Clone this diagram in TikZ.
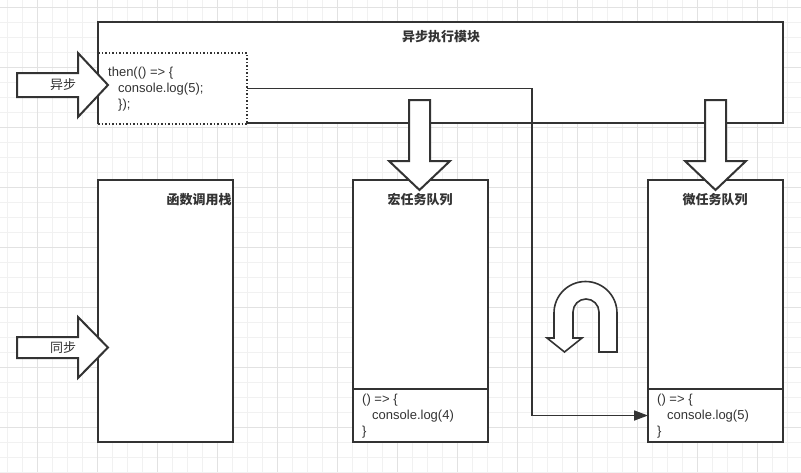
\documentclass[tikz,border=0pt]{standalone}
\usepackage{fontspec}
\setmainfont{Liberation Sans}
\newfontfamily\cjk{Noto Sans CJK SC}
\usetikzlibrary{arrows.meta}
\definecolor{ink}{HTML}{333333}
\definecolor{gridminor}{HTML}{F1F1F1}
\definecolor{gridmajor}{HTML}{E2E2E2}
\begin{document}
\begin{tikzpicture}[x=1pt,y=-1pt,
  box/.style={draw=ink, line width=2pt, fill=white, anchor=north west, inner sep=0pt, outer sep=0pt},
  dotbox/.style={box, line width=1.5pt, dash pattern=on 1.5pt off 2pt},
  blockarrow/.style={draw=ink, line width=2pt, fill=white, line join=miter},
  uturn/.style={draw=ink, line width=1.6pt, fill=white, line join=miter},
  title/.style={font=\cjk\bfseries\fontsize{13}{15}\selectfont, text=ink, inner sep=0pt},
  label/.style={font=\cjk\fontsize{13}{15}\selectfont, text=ink, inner sep=0pt},
  code/.style={font=\fontsize{13}{16}\selectfont, text=ink, align=left, anchor=west, inner sep=0pt},
  conn/.style={draw=ink, line width=1.7pt, -{Triangle[length=14pt,width=10pt]}}]

\useasboundingbox (0,0) rectangle (801,472);
\fill[white] (0,0) rectangle (801,472);
% grid
\foreach \i in {0,...,53} { \draw[gridminor, line width=1pt] ({7+15*\i},0) -- ({7+15*\i},472); }
\foreach \j in {0,...,31} { \draw[gridminor, line width=1pt] (0,{7+15*\j}) -- (801,{7+15*\j}); }
\foreach \i in {0,...,12} { \draw[gridmajor, line width=1pt] ({37+60*\i},0) -- ({37+60*\i},472); }
\foreach \j in {0,...,7} { \draw[gridmajor, line width=1pt] (0,{7+60*\j}) -- (801,{7+60*\j}); }

% async module
\node[box, minimum width=685pt, minimum height=101pt] (async) at (98,22) {};
\node[title] (asynct) at (441,37) {异步执行模块};
\node[dotbox, minimum width=149pt, minimum height=71pt] (then) at (98,53) {};
\draw[ink, line width=2pt] (async.north west) -- (async.south west);
\node[code] (thencode) at (108,89) {then(() => \{\\\hspace*{10pt}console.log(5);\\\hspace*{10pt}\});};

% stack
\node[box, minimum width=135pt, minimum height=262pt] (stack) at (98,180) {};
\node[title] (stackt) at (199,200) {函数调用栈};

% macro queue
\node[box, minimum width=135pt, minimum height=262pt] (macro) at (353,180) {};
\node[title] (macrot) at (420,200) {宏任务队列};
\node[box, minimum width=135pt, minimum height=53pt] (macrocode) at (353,389) {};
\node[code] (macrotext) at (362,416) {() => \{\\\hspace*{10pt}console.log(4)\\\}};

% micro queue
\node[box, minimum width=135pt, minimum height=262pt] (micro) at (648,180) {};
\node[title] (microt) at (715,200) {微任务队列};
\node[box, minimum width=135pt, minimum height=53pt] (microcode) at (648,389) {};
\node[code] (microtext) at (657,416) {() => \{\\\hspace*{10pt}console.log(5)\\\}};

% connector
\coordinate (c1) at (532,88.5);
\coordinate (c2) at (532,415.5);
\draw[conn] (then.east) -- (c1) -- (c2) -- (microcode.west);

% block arrows
\draw[blockarrow] (17,73) -- (78,73) -- (78,53) -- (108,85) -- (78,117) -- (78,97) -- (17,97) -- cycle;
\node[label] (asynclabel) at (63,85) {异步};
\draw[blockarrow] (17,337) -- (78,337) -- (78,317) -- (108,347.5) -- (78,378) -- (78,358) -- (17,358) -- cycle;
\node[label] (synclabel) at (63,347.5) {同步};
\draw[blockarrow] (409,100) -- (430,100) -- (430,161) -- (450,161) -- (419.5,190) -- (389,161) -- (409,161) -- cycle;
\draw[blockarrow] (705,100) -- (726,100) -- (726,161) -- (746,161) -- (715.5,190) -- (685,161) -- (705,161) -- cycle;

% u-turn arrow
\draw[uturn] (617,352) -- (617,313) arc[start angle=0, end angle=-180, radius=31.5]
  -- (554,338) -- (547,338) -- (564.5,352) -- (582,338) -- (573,338) -- (573,312)
  arc[start angle=180, end angle=360, radius=13] -- (599,352) -- cycle;
\end{tikzpicture}
\end{document}
